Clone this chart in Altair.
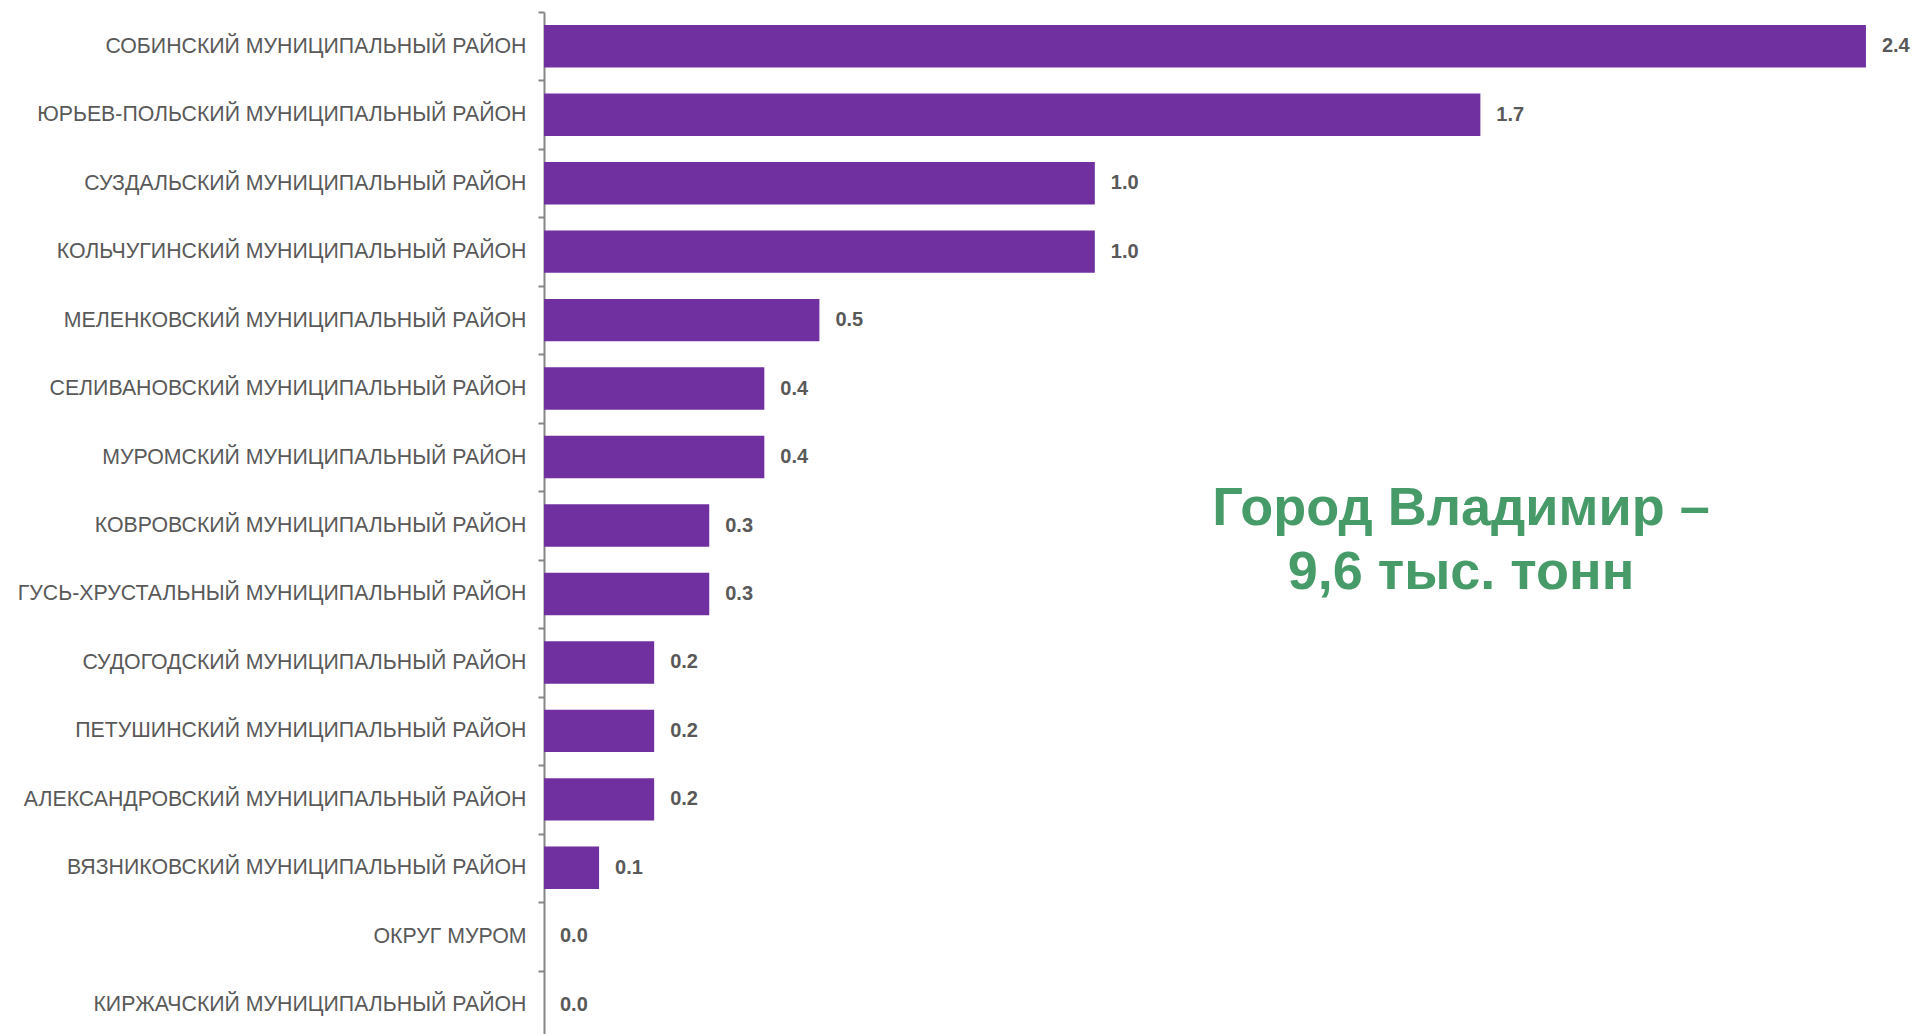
import altair as alt
import pandas as pd

categories = [
    "СОБИНСКИЙ МУНИЦИПАЛЬНЫЙ РАЙОН",
    "ЮРЬЕВ-ПОЛЬСКИЙ МУНИЦИПАЛЬНЫЙ РАЙОН",
    "СУЗДАЛЬСКИЙ МУНИЦИПАЛЬНЫЙ РАЙОН",
    "КОЛЬЧУГИНСКИЙ МУНИЦИПАЛЬНЫЙ РАЙОН",
    "МЕЛЕНКОВСКИЙ МУНИЦИПАЛЬНЫЙ РАЙОН",
    "СЕЛИВАНОВСКИЙ МУНИЦИПАЛЬНЫЙ РАЙОН",
    "МУРОМСКИЙ МУНИЦИПАЛЬНЫЙ РАЙОН",
    "КОВРОВСКИЙ МУНИЦИПАЛЬНЫЙ РАЙОН",
    "ГУСЬ-ХРУСТАЛЬНЫЙ МУНИЦИПАЛЬНЫЙ РАЙОН",
    "СУДОГОДСКИЙ МУНИЦИПАЛЬНЫЙ РАЙОН",
    "ПЕТУШИНСКИЙ МУНИЦИПАЛЬНЫЙ РАЙОН",
    "АЛЕКСАНДРОВСКИЙ МУНИЦИПАЛЬНЫЙ РАЙОН",
    "ВЯЗНИКОВСКИЙ МУНИЦИПАЛЬНЫЙ РАЙОН",
    "ОКРУГ МУРОМ",
    "КИРЖАЧСКИЙ МУНИЦИПАЛЬНЫЙ РАЙОН",
]
values = [2.4, 1.7, 1.0, 1.0, 0.5, 0.4, 0.4, 0.3, 0.3, 0.2, 0.2, 0.2, 0.1, 0.0, 0.0]
annotation_lines = ["Город Владимир –", "9,6 тыс. тонн"]

df = pd.DataFrame({"cat": categories, "val": values})

W = 1366
H = 1027

y_enc = alt.Y(
    "cat:N",
    sort=categories,
    scale=alt.Scale(paddingInner=0, paddingOuter=0),
    axis=alt.Axis(
        title=None,
        tickBand="extent",
        labelFont="Liberation Sans",
        labelFontSize=21.3,
        labelColor="#595959",
        labelPadding=12,
        tickSize=6,
        tickColor="#868686",
        tickWidth=2,
        domainColor="#868686",
        domainWidth=2,
        grid=False,
        labelLimit=0,
    ),
)
x_enc = alt.X("val:Q", scale=alt.Scale(domain=[0, 2.48], nice=False, zero=True), axis=None)

bars = alt.Chart(df).mark_bar(color="#7030A0", height={"band": 0.62}).encode(x=x_enc, y=y_enc)

labels = alt.Chart(df).mark_text(
    align="left",
    baseline="middle",
    dx=16,
    font="Liberation Sans",
    fontSize=20,
    fontWeight="bold",
    color="#595959",
).encode(x=x_enc, y=alt.Y("cat:N", sort=categories), text=alt.Text("val:Q", format=".1f"))

annot = alt.Chart(df).mark_text(
    text=annotation_lines,
    align="center",
    baseline="middle",
    lineHeight=64,
    font="Liberation Sans",
    fontSize=54,
    fontWeight="bold",
    color="#479B69",
).encode(x=alt.value(1461 - 544), y=alt.value(497))

chart = (
    alt.layer(bars, labels, annot.transform_filter(alt.datum.cat == categories[0]))
    .properties(
        width=W,
        height=H,
        padding={"left": 536, "top": 4, "right": 0, "bottom": 0},
        autosize=alt.AutoSizeParams(type="none"),
        background="white",
    )
    .configure_view(stroke=None)
)

chart.save("out.html", embed_options={"renderer": "svg", "actions": False})
